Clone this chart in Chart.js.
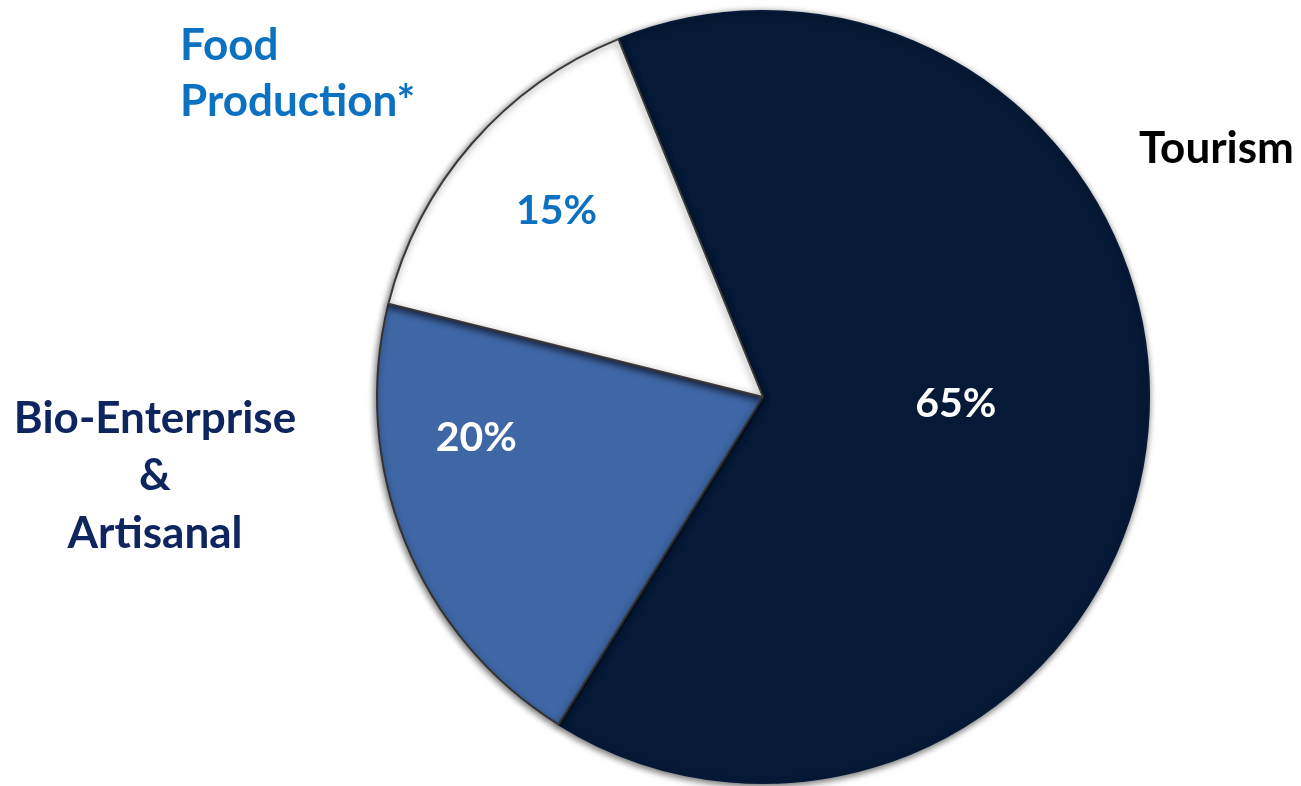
<!DOCTYPE html>
<html>
<head>
<meta charset="utf-8">
<script src="https://cdn.jsdelivr.net/npm/chart.js@4"></script>
<style>
  html, body { margin: 0; padding: 0; background: #fff; }
  #wrap { width: 1301px; height: 786px; position: relative; }
</style>
</head>
<body>
<div id="wrap"><canvas id="sectorPie"></canvas></div>
<script>
// sector shares (%)
var sectors = ['Tourism', 'Bio-Enterprise & Artisanal', 'Food Production*'];
var shares = [65, 20, 15];
var sliceColors = ['#061a38', '#3f67a6', '#ffffff'];
var pctColors = ['#ffffff', '#ffffff', '#0b71c1'];

// where each % label sits inside its slice: shift from mid angle (deg), fraction of radius
var pctAngleShift = [-3, 14, 1];
var pctRadius = [0.50, 0.75, 0.72];

// outside labels
var outerLabels = [
  { lines: ['Tourism'], color: '#000000', x: 1139, y: 163, align: 'left' },
  { lines: ['Bio-Enterprise'], color: '#0e2560', x: 155, y: 433, align: 'center' },
  { lines: ['&'], color: '#0e2560', x: 155, y: 490, align: 'center' },
  { lines: ['Artisanal'], color: '#0e2560', x: 155, y: 548, align: 'center' },
  { lines: ['Food', 'Production*'], color: '#0b71c1', x: 180, y: 60, align: 'left' }
];

var FONT = 'Lato, "Open Sans", sans-serif';

var shadowPlugin = {
  id: 'pieShadow',
  beforeDatasetsDraw: function(chart) {
    var ctx = chart.ctx;
    ctx.save();
    ctx.shadowColor = 'rgba(0,0,0,0.6)';
    ctx.shadowBlur = 7;
    ctx.shadowOffsetX = -1;
    ctx.shadowOffsetY = 2;
  },
  afterDatasetsDraw: function(chart) {
    chart.ctx.restore();
  }
};

var labelPlugin = {
  id: 'pieLabels',
  afterDraw: function(chart) {
    var ctx = chart.ctx;
    var arcs = chart.getDatasetMeta(0).data;
    ctx.save();
    ctx.font = 'bold 41px ' + FONT;
    ctx.textAlign = 'center';
    ctx.textBaseline = 'middle';
    arcs.forEach(function(arc, i) {
      var p = arc.getProps(['x', 'y', 'startAngle', 'endAngle', 'outerRadius'], true);
      var a = (p.startAngle + p.endAngle) / 2 + pctAngleShift[i] * Math.PI / 180;
      var r = p.outerRadius * pctRadius[i];
      ctx.fillStyle = pctColors[i];
      ctx.fillText(shares[i] + '%', p.x + Math.cos(a) * r, p.y + Math.sin(a) * r);
    });

    ctx.font = 'bold 44px ' + FONT;
    ctx.textBaseline = 'alphabetic';
    outerLabels.forEach(function(lb) {
      ctx.fillStyle = lb.color;
      ctx.textAlign = lb.align;
      lb.lines.forEach(function(t, k) {
        ctx.fillText(t, lb.x, lb.y + k * 56);
      });
    });
    ctx.restore();
  }
};

var ctx = document.getElementById('sectorPie');
var sectorPie = new Chart(ctx, {
  type: 'pie',
  data: {
    labels: sectors,
    datasets: [{
      data: shares,
      backgroundColor: sliceColors,
      borderColor: ['#061a38', '#333333', '#3a3a3a'],
      borderWidth: 2
    }]
  },
  options: {
    responsive: true,
    maintainAspectRatio: false,
    animation: false,
    rotation: -22,
    layout: { padding: { left: 376, right: 151, top: 10, bottom: 2 } },
    plugins: {
      legend: { display: false },
      tooltip: { enabled: false }
    }
  },
  plugins: [shadowPlugin, labelPlugin]
});
</script>
</body>
</html>
